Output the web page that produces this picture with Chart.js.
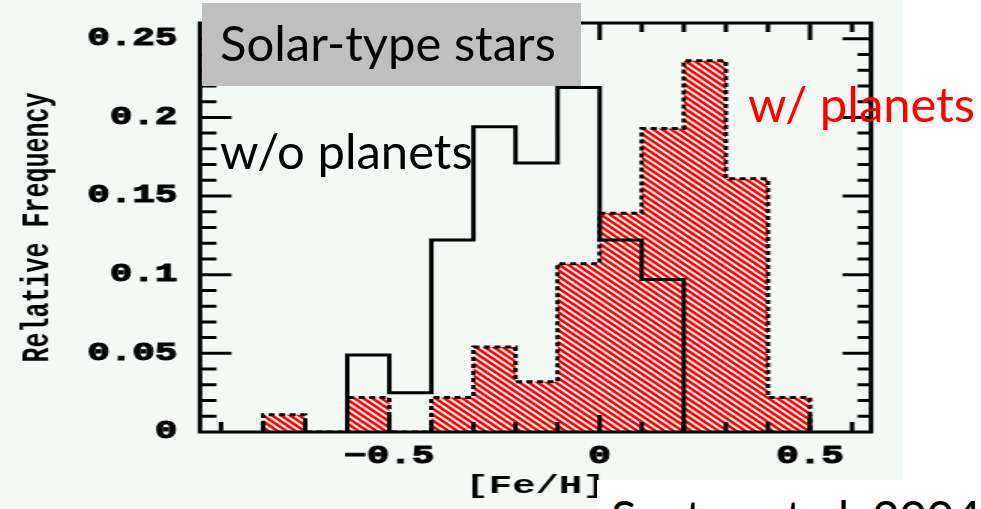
<!DOCTYPE html>
<html>
<head>
<meta charset="utf-8">
<script src="https://cdn.jsdelivr.net/npm/chart.js@4"></script>
<style>
    html, body { margin: 0; padding: 0; background: #fff; }
    #wrap { position: relative; width: 981px; height: 509px; overflow: hidden; }
    /* the original figure is stretched 1.5x horizontally on the slide */
    #chart { position: absolute; left: 0; top: 0; transform: scaleX(1.5); transform-origin: 0 0; }
    .note { position: absolute; font-family: Lato, sans-serif; font-size: 49px; line-height: 1; white-space: nowrap; color: #000; }
    #titleBox { position: absolute; left: 202px; top: 3px; width: 379px; height: 83px; background: #bfbfbf; }
    #refBox { position: absolute; left: 597px; top: 480px; width: 384px; height: 40px; background: #fff; overflow: hidden; }
</style>
</head>
<body>
<div id="wrap">
    <canvas id="chart" width="654" height="509"></canvas>
    <div id="titleBox"></div>
    <div class="note" style="left: 220px; top: 18px;">Solar-type stars</div>
    <div class="note" style="left: 220px; top: 126px;">w/o planets</div>
    <div class="note" style="left: 748px; top: 79px; color: #ff0000;">w/ planets</div>
    <div id="refBox"><div class="note" style="left: 14px; top: 13px; font-size: 47px;">Santos et al. 2004</div></div>
</div>
<script>
// histogram bins of [Fe/H], bin edges
var binEdges = [-0.8, -0.7, -0.6, -0.5, -0.4, -0.3, -0.2, -0.1, 0, 0.1, 0.2, 0.3, 0.4, 0.5];
// relative frequency per bin (null = no bin drawn)
var withPlanets = [0.011, 0, 0.022, 0, 0.022, 0.054, 0.032, 0.107, 0.139, 0.193, 0.236, 0.161, 0.022];
var withoutPlanets = [null, null, 0.049, 0.025, 0.122, 0.194, 0.171, 0.219, 0.122, 0.097, null, null, null];
var xTicks = [-0.5, 0, 0.5];
var yTicks = [0, 0.05, 0.1, 0.15, 0.2, 0.25];

function stepPoints(values) {
    var first = -1, last = -1;
    values.forEach(function (v, i) {
        if (v !== null) { if (first < 0) first = i; last = i; }
    });
    var pts = [{ x: binEdges[first], y: 0 }];
    for (var i = first; i <= last; i++) pts.push({ x: binEdges[i], y: values[i] });
    pts.push({ x: binEdges[last + 1], y: 0 });
    return pts;
}

// red / white diagonal hatching
function hatch() {
    var p = 6;
    var c = document.createElement('canvas');
    c.width = p; c.height = p;
    var g = c.getContext('2d');
    g.fillStyle = '#fff';
    g.fillRect(0, 0, p, p);
    g.strokeStyle = '#ff0000';
    g.lineWidth = 2.4;
    g.beginPath();
    [-1, 0, 1].forEach(function (k) {
        g.moveTo(k * p - 1, -1);
        g.lineTo(k * p + p + 1, p + 1);
    });
    g.stroke();
    return g.createPattern(c, 'repeat');
}

var framePlugin = {
    id: 'frame',
    beforeDraw: function (chart) {
        var ctx = chart.ctx;
        ctx.save();
        ctx.fillStyle = '#f5f9f6';
        ctx.fillRect(0, 0, 602, chart.height);
        ctx.restore();
    },
    afterDatasetsDraw: function (chart) {
        var ctx = chart.ctx, a = chart.chartArea, x = chart.scales.x, y = chart.scales.y;
        ctx.save();
        ctx.strokeStyle = '#000';
        ctx.lineWidth = 3;
        ctx.strokeRect(a.left, a.top, a.right - a.left, a.bottom - a.top);
        ctx.beginPath();
        for (var i = 1; i < 26; i++) {
            var py = y.getPixelForValue(i / 100);
            var major = i % 5 === 0;
            ctx.moveTo(a.left, py); ctx.lineTo(a.left + (major ? 21 : 11), py);
            ctx.moveTo(a.right, py); ctx.lineTo(a.right - (major ? 19 : 9), py);
        }
        for (var j = -9; j <= 6; j++) {
            var px = x.getPixelForValue(j / 10);
            var big = j % 5 === 0;
            ctx.moveTo(px, a.bottom); ctx.lineTo(px, a.bottom - (big ? 17 : 10));
            ctx.moveTo(px, a.top); ctx.lineTo(px, a.top + (big ? 17 : 9));
        }
        ctx.stroke();
        ctx.restore();
    }
};

var axisFont = { family: '"Liberation Mono", monospace', weight: 'bold', size: 25 };

function noPad(s) { s.paddingTop = 0; s.paddingBottom = 0; s.paddingLeft = 0; s.paddingRight = 0; }

new Chart(document.getElementById('chart'), {
    type: 'line',
    data: {
        datasets: [{
            label: 'w/o planets',
            data: stepPoints(withoutPlanets),
            stepped: 'before',
            borderColor: '#000',
            borderWidth: 3,
            fill: false,
            pointRadius: 0
        }, {
            label: 'w/ planets',
            data: stepPoints(withPlanets),
            stepped: 'before',
            borderColor: '#000',
            borderWidth: 3,
            borderDash: [4, 3],
            backgroundColor: hatch(),
            fill: 'origin',
            pointRadius: 0
        }]
    },
    options: {
        responsive: false,
        animation: false,
        layout: { padding: { left: 0, top: 23, right: 73.33, bottom: 0 } },
        plugins: { legend: { display: false }, tooltip: { enabled: false } },
        scales: {
            x: {
                type: 'linear',
                min: -0.95,
                max: 0.645,
                grid: { display: false },
                border: { display: false },
                afterBuildTicks: function (s) { s.ticks = xTicks.map(function (v) { return { value: v }; }); },
                afterFit: function (s) { s.height = 77; noPad(s); },
                ticks: {
                    color: '#000', font: axisFont, padding: 2, maxRotation: 0, autoSkip: false,
                    textStrokeColor: '#000', textStrokeWidth: 1,
                    callback: function (v) { return v < 0 ? '\u2212' + Math.abs(v) : String(v); }
                },
                title: { display: true, text: '[Fe/H]', color: '#000', font: { family: '"Liberation Mono", monospace', weight: 'bold', size: 26 }, padding: { top: 0, bottom: 7 } }
            },
            y: {
                min: 0,
                max: 0.26,
                grid: { display: false },
                border: { display: false },
                afterBuildTicks: function (s) { s.ticks = yTicks.map(function (v) { return { value: v }; }); },
                afterFit: function (s) { s.width = 133.33; noPad(s); },
                ticks: {
                    color: '#000', font: axisFont, padding: 7,
                    textStrokeColor: '#000', textStrokeWidth: 1,
                    callback: function (v) { return String(v); }
                },
                title: { display: true, text: 'Relative Frequency', color: '#000', font: axisFont, padding: { top: 11, bottom: 0 } }
            }
        }
    },
    plugins: [framePlugin]
});
</script>
</body>
</html>
